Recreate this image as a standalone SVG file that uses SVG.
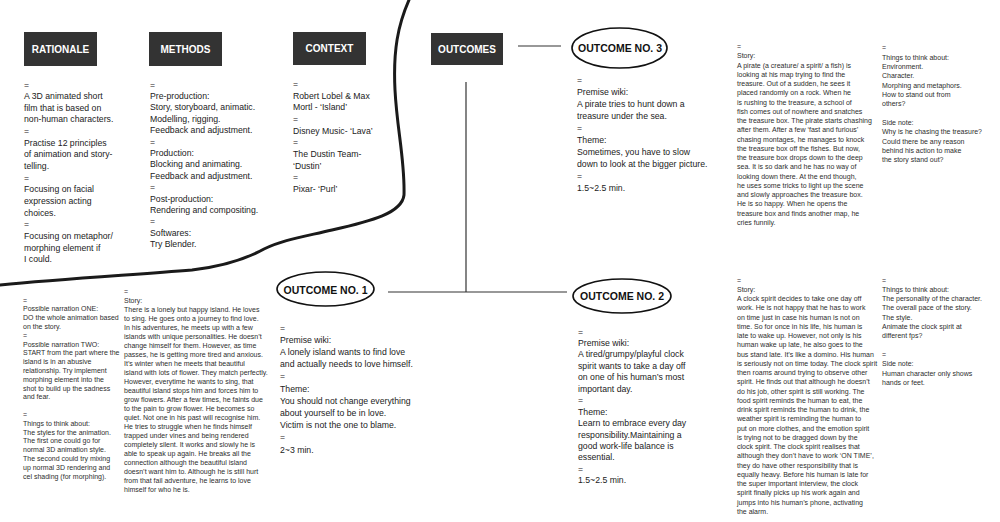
<svg xmlns="http://www.w3.org/2000/svg" width="1000" height="522" viewBox="0 0 1000 522">
<style>
.hd{fill:#333333}
.ht{font-family:"Liberation Sans",Arial,sans-serif;font-weight:bold;font-size:10px;fill:#ffffff;text-anchor:middle}
.ot{font-family:"Liberation Sans",Arial,sans-serif;font-weight:bold;font-size:10.5px;fill:#111111;text-anchor:middle}
.el{fill:none;stroke:#111111;stroke-width:1.6}
.b{font-family:"Liberation Sans",Arial,sans-serif;font-size:8.7px;fill:#222222}
.s{font-family:"Liberation Sans",Arial,sans-serif;font-size:7px;fill:#2e2e2e}
.cn{stroke:#333333;stroke-width:1.2;fill:none}
</style>
<rect width="1000" height="522" fill="#ffffff"/>
<path d="M 409 0 C 398 25, 393 50, 395 90 C 397 130, 405 160, 404 195 C 402 213, 372 221, 332 230 C 302 237, 282 240, 264 249 C 246 259, 226 266, 192 270 C 130 275, 60 279, 0 285" fill="none" stroke="#1a1a1a" stroke-width="3" stroke-linecap="round"/>
<g id="connectors">
<line class="cn" x1="518" y1="46" x2="561" y2="46"/>
<line class="cn" x1="466" y1="82" x2="466" y2="292"/>
<line class="cn" x1="388" y1="292" x2="567" y2="292"/>
</g>
<g id="rationale">
<rect class="hd" x="24" y="32" width="73" height="34"/>
<text class="ht" x="60.5" y="52.5">RATIONALE</text>
<text class="b" x="24" y="87.5"><tspan x="24">=</tspan><tspan x="24" dy="11.65">A 3D animated short</tspan><tspan x="24" dy="11.65">film that is based on</tspan><tspan x="24" dy="11.65">non-human characters.</tspan><tspan x="24" dy="11.65">=</tspan><tspan x="24" dy="11.65">Practise 12 principles</tspan><tspan x="24" dy="11.65">of animation and story-</tspan><tspan x="24" dy="11.65">telling.</tspan><tspan x="24" dy="11.65">=</tspan><tspan x="24" dy="11.65">Focusing on facial</tspan><tspan x="24" dy="11.65">expression acting</tspan><tspan x="24" dy="11.65">choices.</tspan><tspan x="24" dy="11.65">=</tspan><tspan x="24" dy="11.65">Focusing on metaphor/</tspan><tspan x="24" dy="11.65">morphing element if</tspan><tspan x="24" dy="11.65">I could.</tspan></text>
</g>
<g id="methods">
<rect class="hd" x="149" y="32" width="73" height="34"/>
<text class="ht" x="185.5" y="52.5">METHODS</text>
<text class="b" x="150" y="87.5"><tspan x="150">=</tspan><tspan x="150" dy="11.4">Pre-production:</tspan><tspan x="150" dy="11.4">Story, storyboard, animatic.</tspan><tspan x="150" dy="11.4">Modelling, rigging.</tspan><tspan x="150" dy="11.4">Feedback and adjustment.</tspan><tspan x="150" dy="11.4">=</tspan><tspan x="150" dy="11.4">Production:</tspan><tspan x="150" dy="11.4">Blocking and animating.</tspan><tspan x="150" dy="11.4">Feedback and adjustment.</tspan><tspan x="150" dy="11.4">=</tspan><tspan x="150" dy="11.4">Post-production:</tspan><tspan x="150" dy="11.4">Rendering and compositing.</tspan><tspan x="150" dy="11.4">=</tspan><tspan x="150" dy="11.4">Softwares:</tspan><tspan x="150" dy="11.4">Try Blender.</tspan></text>
</g>
<g id="context">
<rect class="hd" x="293" y="32" width="73" height="33"/>
<text class="ht" x="329.5" y="52">CONTEXT</text>
<text class="b" x="293" y="87"><tspan x="293">=</tspan><tspan x="293" dy="11.65">Robert Lobel &amp; Max</tspan><tspan x="293" dy="11.65">Mortl - ‘Island’</tspan><tspan x="293" dy="11.65">=</tspan><tspan x="293" dy="11.65">Disney Music- ‘Lava’</tspan><tspan x="293" dy="11.65">=</tspan><tspan x="293" dy="11.65">The Dustin Team-</tspan><tspan x="293" dy="11.65">‘Dustin’</tspan><tspan x="293" dy="11.65">=</tspan><tspan x="293" dy="11.65">Pixar- ‘Purl’</tspan></text>
</g>
<g id="outcomes">
<rect class="hd" x="431" y="33" width="72" height="32"/>
<text class="ht" x="467" y="52.5">OUTCOMES</text>
</g>
<g id="outcome3">
<ellipse class="el" cx="619.5" cy="48" rx="47.5" ry="20"/>
<text class="ot" x="620" y="52">OUTCOME NO. 3</text>
<text class="b" x="577" y="83"><tspan x="577">=</tspan><tspan x="577" dy="12">Premise wiki:</tspan><tspan x="577" dy="12">A pirate tries to hunt down a</tspan><tspan x="577" dy="12">treasure under the sea.</tspan><tspan x="577" dy="12">=</tspan><tspan x="577" dy="12">Theme:</tspan><tspan x="577" dy="12">Sometimes, you have to slow</tspan><tspan x="577" dy="12">down to look at the bigger picture.</tspan><tspan x="577" dy="12">=</tspan><tspan x="577" dy="12">1.5~2.5 min.</tspan></text>
</g>
<g id="outcome3-story">
<text class="s" x="737" y="49"><tspan x="737">=</tspan><tspan x="737" dy="9.25">Story:</tspan><tspan x="737" dy="9.25">A pirate (a creature/ a spirit/ a fish) is</tspan><tspan x="737" dy="9.25">looking at his map trying to find the</tspan><tspan x="737" dy="9.25">treasure. Out of a sudden, he sees it</tspan><tspan x="737" dy="9.25">placed randomly on a rock. When he</tspan><tspan x="737" dy="9.25">is rushing to the treasure, a school of</tspan><tspan x="737" dy="9.25">fish comes out of nowhere and snatches</tspan><tspan x="737" dy="9.25">the treasure box. The pirate starts chashing</tspan><tspan x="737" dy="9.25">after them. After a few ‘fast and furious’</tspan><tspan x="737" dy="9.25">chasing montages, he manages to knock</tspan><tspan x="737" dy="9.25">the treasure box off the fishes. But now,</tspan><tspan x="737" dy="9.25">the treasure box drops down to the deep</tspan><tspan x="737" dy="9.25">sea. It is so dark and he has no way of</tspan><tspan x="737" dy="9.25">looking down there. At the end though,</tspan><tspan x="737" dy="9.25">he uses some tricks to light up the scene</tspan><tspan x="737" dy="9.25">and slowly approaches the treasure box.</tspan><tspan x="737" dy="9.25">He is so happy. When he opens the</tspan><tspan x="737" dy="9.25">treasure box and finds another map, he</tspan><tspan x="737" dy="9.25">cries funnily.</tspan></text>
</g>
<g id="outcome3-notes">
<text class="s" x="882" y="50.2"><tspan x="882">=</tspan><tspan x="882" dy="9.35">Things to think about:</tspan><tspan x="882" dy="9.35">Environment.</tspan><tspan x="882" dy="9.35">Character.</tspan><tspan x="882" dy="9.35">Morphing and metaphors.</tspan><tspan x="882" dy="9.35">How to stand out from</tspan><tspan x="882" dy="9.35">others?</tspan><tspan x="882" dy="18.7">Side note:</tspan><tspan x="882" dy="9.35">Why is he chasing the treasure?</tspan><tspan x="882" dy="9.35">Could there be any reason</tspan><tspan x="882" dy="9.35">behind his action to make</tspan><tspan x="882" dy="9.35">the story stand out?</tspan></text>
</g>
<g id="outcome1">
<ellipse class="el" cx="325.5" cy="289" rx="48.5" ry="17"/>
<text class="ot" x="325.5" y="293.5">OUTCOME NO. 1</text>
<text class="b" x="280" y="330.5"><tspan x="280">=</tspan><tspan x="280" dy="12.2">Premise wiki:</tspan><tspan x="280" dy="12.2">A lonely island wants to find love</tspan><tspan x="280" dy="12.2">and actually needs to love himself.</tspan><tspan x="280" dy="12.2">=</tspan><tspan x="280" dy="12.2">Theme:</tspan><tspan x="280" dy="12.2">You should not change everything</tspan><tspan x="280" dy="12.2">about yourself to be in love.</tspan><tspan x="280" dy="12.2">Victim is not the one to blame.</tspan><tspan x="280" dy="12.2">=</tspan><tspan x="280" dy="12.2">2~3 min.</tspan></text>
</g>
<g id="outcome1-narration">
<text class="s" x="23" y="302.5"><tspan x="23">=</tspan><tspan x="23" dy="8.8">Possible narration ONE:</tspan><tspan x="23" dy="8.8">DO the whole animation based</tspan><tspan x="23" dy="8.8">on the story.</tspan><tspan x="23" dy="8.8">=</tspan><tspan x="23" dy="8.8">Possible narration TWO:</tspan><tspan x="23" dy="8.8">START from the part where the</tspan><tspan x="23" dy="8.8">island is in an abusive</tspan><tspan x="23" dy="8.8">relationship. Try implement</tspan><tspan x="23" dy="8.8">morphing element into the</tspan><tspan x="23" dy="8.8">shot to build up the sadness</tspan><tspan x="23" dy="8.8">and fear.</tspan><tspan x="23" dy="17.6">=</tspan><tspan x="23" dy="8.8">Things to think about:</tspan><tspan x="23" dy="8.8">The styles for the animation.</tspan><tspan x="23" dy="8.8">The first one could go for</tspan><tspan x="23" dy="8.8">normal 3D animation style.</tspan><tspan x="23" dy="8.8">The second could try mixing</tspan><tspan x="23" dy="8.8">up normal 3D rendering and</tspan><tspan x="23" dy="8.8">cel shading (for morphing).</tspan></text>
</g>
<g id="outcome1-story">
<text class="s" x="124" y="293.7"><tspan x="124">=</tspan><tspan x="124" dy="9">Story:</tspan><tspan x="124" dy="9">There is a lonely but happy island. He loves</tspan><tspan x="124" dy="9">to sing. He goes onto a journey to find love.</tspan><tspan x="124" dy="9">In his adventures, he meets up with a few</tspan><tspan x="124" dy="9">islands with unique personalities. He doesn’t</tspan><tspan x="124" dy="9">change himself for them. However, as time</tspan><tspan x="124" dy="9">passes, he is getting more tired and anxious.</tspan><tspan x="124" dy="9">It’s winter when he meets that beautiful</tspan><tspan x="124" dy="9">island with lots of flower. They match perfectly.</tspan><tspan x="124" dy="9">However, everytime he wants to sing, that</tspan><tspan x="124" dy="9">beautiful island stops him and forces him to</tspan><tspan x="124" dy="9">grow flowers. After a few times, he faints due</tspan><tspan x="124" dy="9">to the pain to grow flower. He becomes so</tspan><tspan x="124" dy="9">quiet. Not one in his past will recognise him.</tspan><tspan x="124" dy="9">He tries to struggle when he finds himself</tspan><tspan x="124" dy="9">trapped under vines and being rendered</tspan><tspan x="124" dy="9">completely silent. It works and slowly he is</tspan><tspan x="124" dy="9">able to speak up again. He breaks all the</tspan><tspan x="124" dy="9">connection although the beautiful island</tspan><tspan x="124" dy="9">doesn’t want him to. Although he is still hurt</tspan><tspan x="124" dy="9">from that fail adventure, he learns to love</tspan><tspan x="124" dy="9">himself for who he is.</tspan></text>
</g>
<g id="outcome2">
<ellipse class="el" cx="622" cy="296" rx="49" ry="17"/>
<text class="ot" x="622" y="300">OUTCOME NO. 2</text>
<text class="b" x="578" y="334.5"><tspan x="578">=</tspan><tspan x="578" dy="11.45">Premise wiki:</tspan><tspan x="578" dy="11.45">A tired/grumpy/playful clock</tspan><tspan x="578" dy="11.45">spirit wants to take a day off</tspan><tspan x="578" dy="11.45">on one of his human’s most</tspan><tspan x="578" dy="11.45">important day.</tspan><tspan x="578" dy="11.45">=</tspan><tspan x="578" dy="11.45">Theme:</tspan><tspan x="578" dy="11.45">Learn to embrace every day</tspan><tspan x="578" dy="11.45">responsibility.Maintaining a</tspan><tspan x="578" dy="11.45">good work-life balance is</tspan><tspan x="578" dy="11.45">essential.</tspan><tspan x="578" dy="11.45">=</tspan><tspan x="578" dy="11.45">1.5~2.5 min.</tspan></text>
</g>
<g id="outcome2-story">
<text class="s" x="737" y="282.5"><tspan x="737">=</tspan><tspan x="737" dy="9.26">Story:</tspan><tspan x="737" dy="9.26">A clock spirit decides to take one day off</tspan><tspan x="737" dy="9.26">work. He is not happy that he has to work</tspan><tspan x="737" dy="9.26">on time just in case his human is not on</tspan><tspan x="737" dy="9.26">time. So for once in his life, his human is</tspan><tspan x="737" dy="9.26">late to wake up. However, not only is his</tspan><tspan x="737" dy="9.26">human wake up late, he also goes to the</tspan><tspan x="737" dy="9.26">bus stand late. It’s like a domino. His human</tspan><tspan x="737" dy="9.26">is seriously not on time today. The clock spirit</tspan><tspan x="737" dy="9.26">then roams around trying to observe other</tspan><tspan x="737" dy="9.26">spirit. He finds out that although he doesn’t</tspan><tspan x="737" dy="9.26">do his job, other spirit is still working. The</tspan><tspan x="737" dy="9.26">food spirit reminds the human to eat, the</tspan><tspan x="737" dy="9.26">drink spirit reminds the human to drink, the</tspan><tspan x="737" dy="9.26">weather spirit is reminding the human to</tspan><tspan x="737" dy="9.26">put on more clothes, and the emotion spirit</tspan><tspan x="737" dy="9.26">is trying not to be dragged down by the</tspan><tspan x="737" dy="9.26">clock spirit. The clock spirit realises that</tspan><tspan x="737" dy="9.26">although they don’t have to work ‘ON TIME’,</tspan><tspan x="737" dy="9.26">they do have other responsibility that is</tspan><tspan x="737" dy="9.26">equally heavy. Before his human is late for</tspan><tspan x="737" dy="9.26">the super important interview, the clock</tspan><tspan x="737" dy="9.26">spirit finally picks up his work again and</tspan><tspan x="737" dy="9.26">jumps into his human’s phone, activating</tspan><tspan x="737" dy="9.26">the alarm.</tspan></text>
</g>
<g id="outcome2-notes">
<text class="s" x="882" y="282.5"><tspan x="882">=</tspan><tspan x="882" dy="9.3">Things to think about:</tspan><tspan x="882" dy="9.3">The personality of the character.</tspan><tspan x="882" dy="9.3">The overall pace of the story.</tspan><tspan x="882" dy="9.3">The style.</tspan><tspan x="882" dy="9.3">Animate the clock spirit at</tspan><tspan x="882" dy="9.3">different fps?</tspan><tspan x="882" dy="18.6">=</tspan><tspan x="882" dy="9.3">Side note:</tspan><tspan x="882" dy="9.3">Human character only shows</tspan><tspan x="882" dy="9.3">hands or feet.</tspan></text>
</g>
</svg>
